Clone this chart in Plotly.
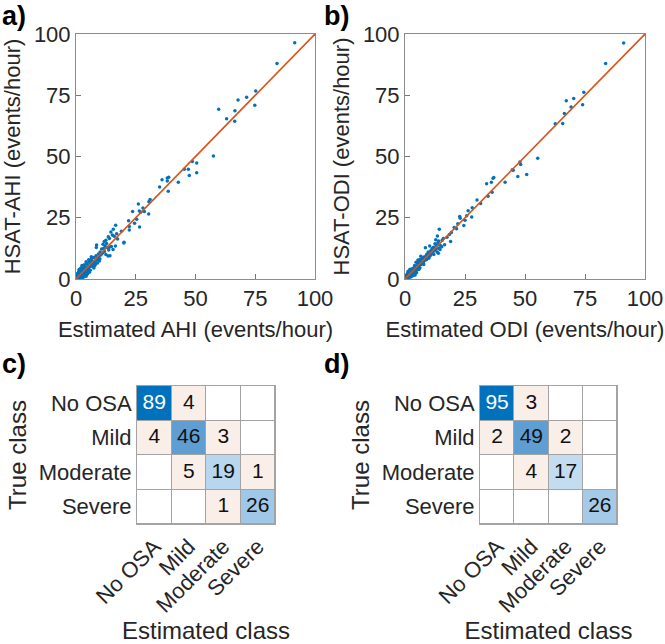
import plotly.graph_objects as go

FONT = "Liberation Sans, Arial, Helvetica, sans-serif"
BLUE = "#0072BD"
ORANGE = "#D95319"

# ---- panel a: estimated AHI vs HSAT-AHI, grouped by true class ----
ahi_severe = [(91.5, 96.4), (84.1, 88.0), (75.2, 76.7), (74.8, 70.9), (71.4, 74.2), (67.8, 73.1),
              (66.5, 68.7), (66.4, 64.4), (63.0, 65.4), (59.7, 69.3), (57.5, 50.2), (50.5, 47.3),
              (48.7, 48.0), (47.0, 44.8), (45.3, 44.8), (47.4, 42.2), (50.5, 43.4), (42.8, 39.5),
              (38.8, 41.5), (38.2, 41.2), (38.2, 40.0), (36.0, 40.5), (38.6, 35.8), (31.0, 32.4),
              (26.1, 30.6), (30.5, 31.5), (35.0, 37.5)]
ahi_moderate = [(30.4, 26.5), (23.7, 27.6), (26.5, 27.8), (28.6, 27.5), (27.1, 27.2), (25.4, 24.4),
                (22.0, 23.8), (26.6, 21.2), (22.3, 20.0), (22.3, 21.4), (20.1, 15.0), (16.6, 21.9),
                (15.6, 20.3), (17.4, 16.3), (15.2, 18.0), (16.0, 17.4), (17.0, 18.5), (19.0, 19.5),
                (24.5, 22.8), (28.0, 29.0), (13.5, 17.2), (12.5, 15.8), (14.0, 16.5), (11.8, 15.3),
                (14.6, 19.2)]
ahi_mild = [(20.0, 14.7), (16.5, 13.5), (15.5, 12.0), (3.5, 5.8), (4.2, 7.0), (2.5, 5.5), (4.6, 6.2),
            (5.2, 5.4), (5.5, 6.8), (5.8, 5.1), (6.0, 7.5), (6.1, 5.6), (6.3, 6.2), (6.5, 8.3),
            (6.7, 5.3), (6.9, 6.6), (7.0, 7.2), (7.2, 5.8), (7.4, 6.0), (7.5, 8.8), (7.7, 6.4),
            (7.9, 5.5), (8.0, 7.0), (8.2, 6.1), (8.4, 9.5), (8.5, 12.9), (8.6, 13.9), (8.8, 7.8),
            (9.0, 6.5), (9.2, 8.4), (9.4, 10.2), (9.6, 9.0), (9.8, 7.3), (10.1, 11.0), (10.4, 9.8),
            (10.7, 12.2), (11.0, 10.5), (11.3, 14.2), (11.6, 12.5), (11.9, 11.2), (12.2, 13.5),
            (12.5, 10.0), (12.8, 14.5), (13.1, 12.8), (13.4, 9.4), (13.7, 11.8), (14.0, 13.0),
            (14.2, 9.5), (14.8, 13.3), (5.3, 7.9), (6.4, 9.1), (7.1, 5.0), (10.0, 8.2)]
ahi_no_osa = [(5.3, 4.2), (6.0, 3.6), (5.6, 2.8), (7.5, 4.5),
              (0.1, 0.2), (0.2, 0.8), (0.3, 0.1), (0.4, 1.5), (0.5, 0.4), (0.6, 2.2), (0.7, 0.9),
              (0.8, 0.3), (0.9, 1.8), (1.0, 0.6), (1.1, 2.9), (1.2, 1.2), (1.3, 0.5), (1.4, 3.5),
              (1.5, 1.9), (1.6, 0.8), (1.7, 2.5), (1.8, 1.4), (1.9, 4.1), (2.0, 2.1), (2.1, 0.9),
              (2.2, 3.2), (2.3, 1.7), (2.4, 4.6), (2.5, 2.6), (2.6, 1.3), (2.7, 3.8), (2.8, 2.2),
              (2.9, 0.7), (3.0, 3.0), (3.1, 4.3), (3.2, 1.8), (3.3, 2.7), (3.4, 3.6), (3.5, 1.2),
              (3.6, 4.8), (3.7, 2.4), (3.8, 3.3), (3.9, 1.6), (4.0, 4.0), (4.1, 2.9), (4.2, 3.7),
              (4.3, 1.9), (4.4, 4.5), (4.5, 2.5), (4.6, 3.4), (4.7, 4.2), (4.8, 2.0), (4.9, 3.9),
              (0.3, 0.5), (0.6, 1.1), (0.9, 0.4), (1.2, 2.6), (1.5, 0.2), (1.8, 3.1), (2.1, 1.6),
              (2.4, 0.5), (2.7, 2.9), (3.0, 1.4), (3.3, 4.1), (3.6, 2.0), (3.9, 3.0), (4.2, 1.1),
              (4.5, 3.8), (4.8, 4.6), (0.4, 0.0), (0.8, 1.9), (1.3, 3.9), (1.7, 1.0), (2.2, 2.4),
              (2.6, 4.2), (3.1, 0.9), (3.5, 2.9), (4.0, 1.5), (4.4, 3.1), (1.0, 1.3), (2.0, 4.4),
              (3.0, 2.0), (4.0, 2.7), (2.5, 3.4), (1.6, 2.3), (3.4, 1.0), (4.6, 4.9), (0.2, 1.3),
              (2.9, 3.6), (3.7, 4.4), (4.3, 2.3), (1.1, 0.1), (2.3, 2.8)]

# ---- panel b: estimated ODI vs HSAT-ODI ----
odi_severe = [(91.1, 96.3), (83.6, 88.0), (74.5, 76.2), (74.0, 71.1), (70.3, 73.7), (67.2, 72.8),
              (69.2, 70.2), (66.4, 67.6), (65.7, 63.5), (62.6, 63.4), (55.3, 49.3), (47.9, 47.8),
              (48.2, 46.7), (44.7, 44.6), (45.1, 44.4), (50.7, 42.7), (47.0, 41.8), (41.7, 39.5),
              (37.0, 41.4), (36.7, 41.1), (36.0, 39.5), (34.0, 38.9), (36.3, 35.4), (34.6, 33.8),
              (30.0, 32.2), (31.5, 30.8)]
odi_moderate = [(28.0, 29.1), (26.3, 27.9), (25.7, 25.8), (22.8, 25.5), (23.0, 24.8), (25.0, 24.0),
                (27.8, 25.3), (24.5, 21.8), (22.0, 22.5), (21.5, 20.5), (19.3, 19.0), (19.0, 15.3),
                (17.5, 17.0), (16.0, 16.5), (18.5, 18.2), (20.5, 21.0), (15.5, 15.8),
                (14.3, 20.3), (13.5, 17.5), (12.8, 16.0), (14.0, 15.5)]
odi_mild = [(15.3, 13.2), (16.5, 14.0), (4.0, 5.5), (4.6, 6.8),
            (5.1, 5.3), (5.3, 6.2), (5.5, 5.0), (5.7, 7.0), (5.9, 5.6), (6.1, 6.4), (6.3, 8.0),
            (6.5, 5.8), (6.7, 6.9), (6.9, 7.6), (7.1, 6.2), (7.3, 8.5), (7.5, 7.0), (7.7, 6.5),
            (7.9, 9.0), (8.1, 7.6), (8.3, 8.2), (8.5, 12.8), (8.7, 9.4), (8.9, 7.9), (9.1, 10.1),
            (9.3, 8.7), (9.5, 9.8), (9.7, 11.0), (9.9, 8.5), (10.1, 10.6), (10.3, 13.5), (10.5, 9.5),
            (10.8, 11.6), (11.0, 10.2), (11.3, 12.4), (11.6, 11.0), (11.9, 13.0), (12.2, 11.5),
            (12.5, 14.4), (12.8, 12.0), (13.1, 13.7), (13.4, 11.0), (13.7, 14.8), (14.0, 12.5),
            (14.3, 14.0), (14.6, 12.0), (14.9, 13.6), (5.4, 7.8), (6.6, 9.3), (7.8, 5.9),
            (10.0, 9.0), (12.0, 10.0), (13.9, 10.5)]
odi_no_osa = [(5.2, 4.1), (5.8, 3.9), (6.2, 4.6),
              (0.1, 0.1), (0.2, 0.6), (0.3, 0.2), (0.4, 1.1), (0.5, 0.5), (0.6, 1.6), (0.7, 0.8),
              (0.8, 0.2), (0.9, 1.4), (1.0, 0.7), (1.1, 2.2), (1.2, 1.0), (1.3, 0.6), (1.4, 2.8),
              (1.5, 1.6), (1.6, 0.9), (1.7, 2.3), (1.8, 1.3), (1.9, 3.4), (2.0, 2.0), (2.1, 1.0),
              (2.2, 2.9), (2.3, 1.8), (2.4, 4.0), (2.5, 2.5), (2.6, 1.5), (2.7, 3.5), (2.8, 2.3),
              (2.9, 1.2), (3.0, 3.0), (3.1, 4.2), (3.2, 2.1), (3.3, 2.8), (3.4, 3.7), (3.5, 1.6),
              (3.6, 4.5), (3.7, 2.7), (3.8, 3.4), (3.9, 2.0), (4.0, 4.1), (4.1, 3.1), (4.2, 3.8),
              (4.3, 2.4), (4.4, 4.6), (4.5, 2.9), (4.6, 3.6), (4.7, 4.3), (4.8, 2.6), (4.9, 4.0),
              (0.3, 0.4), (0.6, 0.9), (0.9, 0.5), (1.2, 2.0), (1.5, 0.4), (1.8, 2.6), (2.1, 1.7),
              (2.4, 0.8), (2.7, 2.6), (3.0, 1.7), (3.3, 4.0), (3.6, 2.3), (3.9, 3.2), (4.2, 1.6),
              (4.5, 3.9), (4.8, 4.7), (0.4, 0.1), (0.8, 1.5), (1.3, 3.2), (1.7, 1.1), (2.2, 2.3),
              (2.6, 3.8), (3.1, 1.3), (3.5, 3.1), (4.0, 2.2), (4.4, 3.3), (1.0, 1.2), (2.0, 3.9),
              (3.0, 2.4), (4.0, 3.0), (2.5, 3.2), (1.6, 2.0), (3.4, 1.5), (4.6, 4.8), (0.2, 1.0),
              (2.9, 3.5), (3.7, 4.3), (4.3, 2.7), (1.1, 0.3), (2.3, 2.7), (0.5, 0.9), (1.4, 1.2),
              (3.2, 3.3), (4.1, 4.4)]

identity_line = [0, 100]
axis_ticks = [0, 25, 50, 75, 100]

# ---- confusion matrices (rows: true class, cols: estimated class) ----
classes = ["No OSA", "Mild", "Moderate", "Severe"]
conf_ahi = [[89, 4, 0, 0],
            [4, 46, 3, 0],
            [0, 5, 19, 1],
            [0, 0, 1, 26]]
conf_odi = [[95, 3, 0, 0],
            [2, 49, 2, 0],
            [0, 4, 17, 0],
            [0, 0, 0, 26]]

BLUE_SCALE = [[0.0, "#FFFFFF"], [0.18, "#C3DCF0"], [0.3, "#9CC5E6"],
              [0.52, "#5E9DD2"], [1.0, "#0072BD"]]
PINK = "#FAEEE8"
GRID = "#A3A3A3"


def unzip(*groups):
    xs, ys = [], []
    for g in groups:
        for x, y in g:
            xs.append(x)
            ys.append(y)
    return xs, ys


fig = go.Figure()

# scatter panels
for i, groups in enumerate([(ahi_severe, ahi_moderate, ahi_mild, ahi_no_osa),
                            (odi_severe, odi_moderate, odi_mild, odi_no_osa)]):
    xa = "x" if i == 0 else "x2"
    ya = "y" if i == 0 else "y2"
    xs, ys = unzip(*groups)
    fig.add_trace(go.Scatter(x=xs, y=ys, mode="markers", xaxis=xa, yaxis=ya,
                             marker=dict(color=BLUE, size=3.5), showlegend=False))
    fig.add_trace(go.Scatter(x=identity_line, y=identity_line, mode="lines", xaxis=xa, yaxis=ya,
                             line=dict(color=ORANGE, width=1.6), showlegend=False))

# confusion panels: gray underlay shows through the 1px gaps as cell borders
for i, conf in enumerate([conf_ahi, conf_odi]):
    xa = "x3" if i == 0 else "x4"
    ya = "y3" if i == 0 else "y4"
    vmax = max(max(r) for r in conf)
    base = [[0] * 4 for _ in range(4)]
    diag = [[conf[r][c] if r == c and conf[r][c] > 0 else None for c in range(4)] for r in range(4)]
    off = [[1 if r != c and conf[r][c] > 0 else None for c in range(4)] for r in range(4)]
    fig.add_trace(go.Heatmap(z=base, x=classes, y=classes, xaxis=xa, yaxis=ya,
                             colorscale=[[0, GRID], [1, GRID]], showscale=False,
                             hoverinfo="skip"))
    fig.add_trace(go.Heatmap(z=base, x=classes, y=classes, xaxis=xa, yaxis=ya, xgap=1, ygap=1,
                             colorscale=[[0, "white"], [1, "white"]], showscale=False,
                             hoverinfo="skip"))
    fig.add_trace(go.Heatmap(z=off, x=classes, y=classes, xaxis=xa, yaxis=ya, xgap=1, ygap=1,
                             colorscale=[[0, PINK], [1, PINK]], showscale=False, hoverinfo="skip"))
    fig.add_trace(go.Heatmap(z=diag, x=classes, y=classes, xaxis=xa, yaxis=ya, xgap=1, ygap=1,
                             zmin=0, zmax=vmax, colorscale=BLUE_SCALE, showscale=False,
                             hoverinfo="skip"))
    tx, ty, tt, tc = [], [], [], []
    for r in range(4):
        for c in range(4):
            if conf[r][c] > 0:
                tx.append(classes[c])
                ty.append(classes[r])
                tt.append(str(conf[r][c]))
                tc.append("white" if conf[r][c] > 0.7 * vmax else "#111111")
    fig.add_trace(go.Scatter(x=tx, y=ty, text=tt, mode="text", xaxis=xa, yaxis=ya,
                             textfont=dict(color=tc, size=21, family=FONT), showlegend=False,
                             hoverinfo="skip"))

W, H = 665, 644


def dom(p0, p1):
    return [p0 / W, p1 / W]


def vdom(top, bottom):
    return [1 - bottom / H, 1 - top / H]


TICKF = dict(size=22, color="#262626", family=FONT)
TITLEF = dict(size=22, color="#262626", family=FONT)
CTITLEF = dict(size=24, color="#262626", family=FONT)

scatter_axis = dict(range=[0, 100], tickvals=axis_ticks, ticks="inside", ticklen=5,
                    tickcolor="#777777", showline=True, mirror=True, linecolor="#8C8C8C",
                    linewidth=1, showgrid=False, zeroline=False, automargin=False,
                    tickfont=TICKF)
conf_axis = dict(showline=True, mirror=True, linecolor=GRID, linewidth=1, ticks="",
                 showgrid=False, zeroline=False, categoryorder="array", categoryarray=classes,
                 automargin=False, tickfont=TICKF)

fig.update_layout(
    width=W, height=H, margin=dict(l=0, r=0, t=0, b=0),
    paper_bgcolor="white", plot_bgcolor="white",
    font=dict(family=FONT, size=21, color="#262626"),
    xaxis=dict(scatter_axis, domain=dom(76, 315), anchor="y",
               title=dict(text="Estimated AHI (events/hour)", font=TITLEF, standoff=11)),
    yaxis=dict(scatter_axis, domain=vdom(34, 279), anchor="x",
               title=dict(text="HSAT-AHI (events/hour)", font=TITLEF, standoff=7)),
    xaxis2=dict(scatter_axis, domain=dom(405, 645), anchor="y2",
                title=dict(text="Estimated ODI (events/hour)", font=TITLEF, standoff=11)),
    yaxis2=dict(scatter_axis, domain=vdom(34, 279), anchor="x2",
                title=dict(text="HSAT-ODI (events/hour)", font=TITLEF, standoff=7)),
    xaxis3=dict(conf_axis, domain=dom(137, 275), anchor="y3", tickangle=-45,
                title=dict(text="Estimated class", font=CTITLEF, standoff=6)),
    yaxis3=dict(conf_axis, domain=vdom(386, 524), anchor="x3", autorange="reversed",
                title=dict(text="True class", font=CTITLEF, standoff=5)),
    xaxis4=dict(conf_axis, domain=dom(480, 617), anchor="y4", tickangle=-45,
                title=dict(text="Estimated class", font=CTITLEF, standoff=6)),
    yaxis4=dict(conf_axis, domain=vdom(386, 524), anchor="x4", autorange="reversed",
                title=dict(text="True class", font=CTITLEF, standoff=5)),
)

for label, px, py in [("a)", 0, 16), ("b)", 322, 16), ("c)", 0, 364), ("d)", 322, 364)]:
    fig.add_annotation(text="<b>%s</b>" % label, xref="paper", yref="paper",
                       x=px / W, y=1 - py / H, xanchor="left", yanchor="middle",
                       showarrow=False, font=dict(size=27, color="black", family=FONT))

# drop the default page margin so the figure sits at the window's top-left corner
fig.write_html("out.html", config={"displayModeBar": False},
               post_script="document.body.style.margin='0';")
